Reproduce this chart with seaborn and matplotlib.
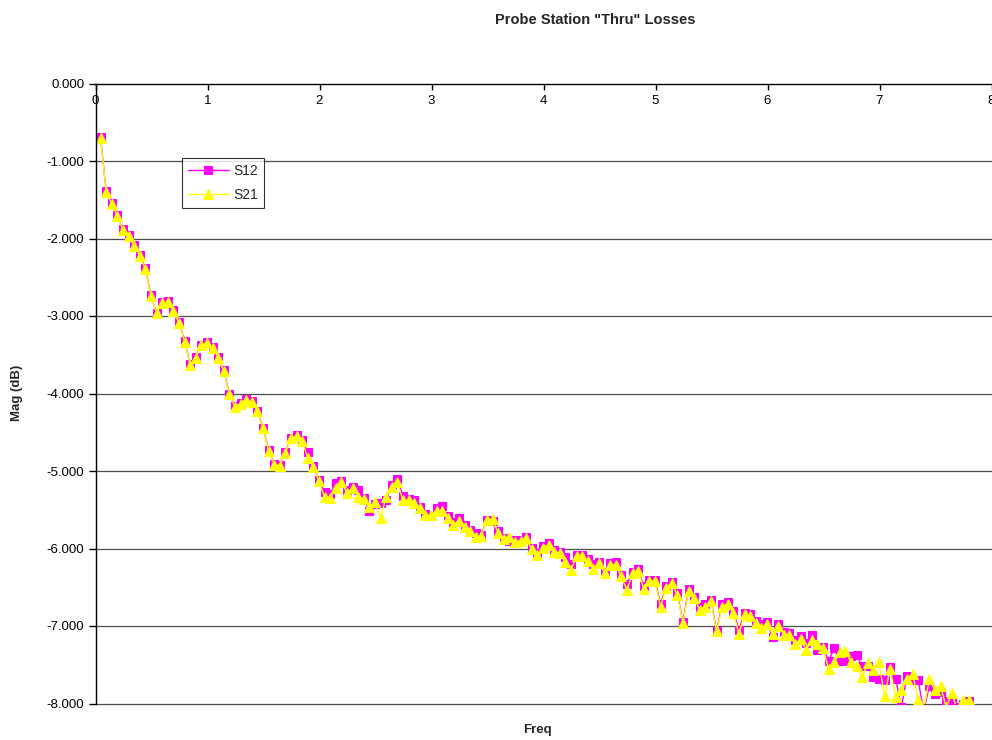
import numpy as np
import pandas as pd
import matplotlib
matplotlib.use("Agg")
import matplotlib.pyplot as plt
import seaborn as sns

# ---------------- data ----------------
title = 'Probe Station "Thru" Losses'
x_label = "Freq"
y_label = "Mag (dB)"
series_names = ["S12", "S21"]
series_colors = ["#FF00FF", "#FFFF00"]
freq_start = 0.045   # GHz, sweep start
freq_step = 0.05     # GHz, sweep step

s12 = [-0.69, -1.39, -1.54, -1.70, -1.88, -1.96, -2.09, -2.21, -2.38, -2.73,
       -2.96, -2.82, -2.81, -2.92, -3.08, -3.32, -3.62, -3.53, -3.37, -3.34,
       -3.40, -3.53, -3.70, -4.00, -4.16, -4.12, -4.07, -4.10, -4.22, -4.44,
       -4.73, -4.91, -4.92, -4.76, -4.57, -4.53, -4.60, -4.76, -4.94, -5.12,
       -5.27, -5.30, -5.16, -5.13, -5.25, -5.20, -5.25, -5.35, -5.52, -5.42,
       -5.41, -5.38, -5.18, -5.10, -5.32, -5.36, -5.38, -5.46, -5.56, -5.58,
       -5.48, -5.45, -5.58, -5.66, -5.60, -5.70, -5.76, -5.80, -5.82, -5.63,
       -5.65, -5.78, -5.86, -5.90, -5.89, -5.89, -5.85, -5.99, -6.06, -5.97,
       -5.93, -6.02, -6.05, -6.11, -6.20, -6.08, -6.09, -6.14, -6.20, -6.17,
       -6.30, -6.19, -6.18, -6.34, -6.46, -6.30, -6.27, -6.49, -6.40, -6.40,
       -6.72, -6.49, -6.43, -6.58, -6.95, -6.52, -6.62, -6.76, -6.72, -6.66,
       -7.06, -6.72, -6.69, -6.81, -7.05, -6.83, -6.85, -6.94, -6.98, -6.95,
       -7.14, -6.98, -7.08, -7.09, -7.18, -7.13, -7.22, -7.12, -7.31, -7.27,
       -7.45, -7.29, -7.45, -7.45, -7.39, -7.38, -7.52, -7.52, -7.66, -7.68,
       -7.70, -7.53, -7.68, -8.05, -7.65, -7.70, -7.70, -8.10, -7.77, -7.88,
       -7.85, -7.97, -7.95, -8.05, -8.00, -7.97]

s21 = [-0.70, -1.40, -1.55, -1.71, -1.89, -1.97, -2.10, -2.22, -2.39, -2.74,
       -2.96, -2.83, -2.82, -2.93, -3.09, -3.33, -3.63, -3.54, -3.38, -3.35,
       -3.41, -3.54, -3.71, -4.01, -4.17, -4.13, -4.09, -4.11, -4.23, -4.45,
       -4.74, -4.92, -4.93, -4.77, -4.58, -4.55, -4.61, -4.83, -4.95, -5.13,
       -5.34, -5.35, -5.22, -5.14, -5.28, -5.22, -5.33, -5.36, -5.46, -5.40,
       -5.60, -5.34, -5.20, -5.14, -5.38, -5.38, -5.41, -5.48, -5.57, -5.57,
       -5.51, -5.52, -5.60, -5.70, -5.64, -5.72, -5.78, -5.85, -5.84, -5.63,
       -5.62, -5.80, -5.88, -5.85, -5.91, -5.90, -5.87, -6.01, -6.09, -5.99,
       -5.95, -6.04, -6.06, -6.18, -6.28, -6.10, -6.10, -6.16, -6.26, -6.19,
       -6.31, -6.21, -6.21, -6.36, -6.54, -6.32, -6.29, -6.52, -6.42, -6.42,
       -6.75, -6.51, -6.45, -6.60, -6.96, -6.55, -6.64, -6.79, -6.75, -6.68,
       -7.07, -6.75, -6.71, -6.83, -7.10, -6.85, -6.87, -6.96, -7.02, -6.97,
       -7.10, -7.00, -7.11, -7.11, -7.23, -7.17, -7.31, -7.18, -7.23, -7.29,
       -7.55, -7.47, -7.34, -7.32, -7.47, -7.52, -7.66, -7.48, -7.57, -7.47,
       -7.90, -7.55, -7.92, -7.82, -7.68, -7.62, -7.95, -8.08, -7.68, -7.83,
       -7.77, -8.05, -7.87, -8.08, -7.95, -7.96]

y_ticks = [0, -1, -2, -3, -4, -5, -6, -7, -8]
x_ticks = [0, 1, 2, 3, 4, 5, 6, 7, 8]

freq = np.round(freq_start + freq_step * np.arange(len(s12)), 3)
df = pd.DataFrame({
    "Freq": np.concatenate([freq, freq]),
    "Mag": np.concatenate([s12, s21]),
    "Series": [series_names[0]] * len(s12) + [series_names[1]] * len(s21),
})

# ---------------- style ----------------
sns.set_style("white")
plt.rcParams["font.family"] = ["Liberation Sans", "DejaVu Sans"]

W, H = 992, 740
fig = plt.figure(figsize=(W / 100, H / 100), dpi=100)
L, R, T, B = 95.5, 991.5, 83.5, 703.5
ax = fig.add_axes([L / W, 1 - B / H, (R - L) / W, (B - T) / H])

markers = ["s", "^"]
msizes = [6.0, 7.0]
for name, col, mk, ms in zip(series_names, series_colors, markers, msizes):
    sub = df[df["Series"] == name]
    sns.lineplot(data=sub, x="Freq", y="Mag", ax=ax, color=col, marker=mk,
                 markersize=ms, markeredgecolor=col, markerfacecolor=col,
                 linewidth=1.0, label=name, estimator=None, sort=False)

ax.set_xlim(0, 8)
ax.set_ylim(-8, 0)
ax.set_xticks(x_ticks)
ax.set_xticklabels([str(t) for t in x_ticks])
ax.set_yticks(y_ticks)
ax.set_yticklabels([f"{t:.3f}" for t in y_ticks])

for y in y_ticks[1:]:
    ax.axhline(y, color="#4d4d4d", linewidth=0.9, zorder=0, clip_on=False)

for side in ["right", "bottom"]:
    ax.spines[side].set_visible(False)
for side in ["left", "top"]:
    ax.spines[side].set_color("black")
    ax.spines[side].set_linewidth(1.0)

ax.tick_params(axis="y", left=True, direction="out", length=5, width=1,
               labelsize=9.5, pad=3, colors="black")
ax.tick_params(axis="x", top=True, bottom=False, labeltop=True,
               labelbottom=False, direction="in", length=4, width=1,
               labelsize=9.5, pad=-17, colors="black")

ax.set_xlabel("")
ax.set_ylabel("")
fig.text(595 / W, 1 - 20 / H, title, ha="center", va="center",
         fontsize=10.5, fontweight="bold")
fig.text(537 / W, 1 - 730 / H, x_label, ha="center", va="center",
         fontsize=9.5, fontweight="bold")
fig.text(17 / W, 1 - 393 / H, y_label, ha="center", va="center",
         rotation=90, fontsize=9.5, fontweight="bold")

leg = ax.legend(loc="upper left", bbox_to_anchor=((182 - L) / (R - L), (B - 158) / (B - T)),
                borderaxespad=0, frameon=True, fancybox=False, fontsize=10,
                handlelength=3.0, handletextpad=0.3, borderpad=0.4,
                labelspacing=0.75)
leg.get_frame().set_edgecolor("black")
leg.get_frame().set_linewidth(0.8)

fig.savefig("out.png", dpi=100)
